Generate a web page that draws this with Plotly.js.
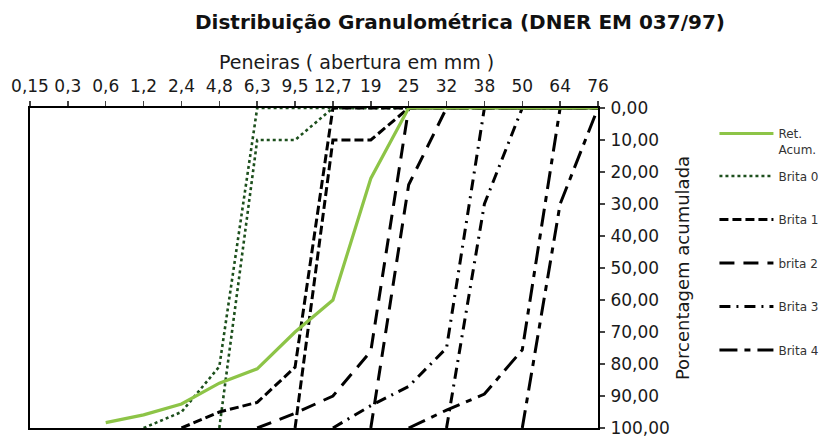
<!DOCTYPE html>
<html>
<head>
<meta charset="utf-8">
<script src="https://cdn.plot.ly/plotly-3.0.1.min.js"></script>
<style>html,body{margin:0;padding:0;background:#fff;}#chart{width:822px;height:437px;}</style>
</head>
<body>
<div id="chart"></div>
<script>
// Peneiras (abertura em mm)
const peneiras = ['0,15','0,3','0,6','1,2','2,4','4,8','6,3','9,5','12,7','19','25','32','38','50','64','76'];
const yTicks = [0,10,20,30,40,50,60,70,80,90,100];

// Porcentagem retida acumulada
const retAcum   = [null,null,98.3,95.9,92.5,86,81.5,70,60,22,0,0,0,0,0,0];
const brita0Inf = [null,null,null,100,95,80.8,0,0,0,0,0,0,0,0,0,0];
const brita0Sup = [null,null,null,null,null,100,10,10,0,0,0,0,0,0,0,0];
const brita1Inf = [null,null,null,null,100,95,92,81,0,0,0,0,0,0,0,0];
const brita1Sup = [null,null,null,null,null,null,null,100,10,10,0,0,0,0,0,0];
const brita2Inf = [null,null,null,null,null,null,100,95.4,90,76,0,0,0,0,0,0];
const brita2Sup = [null,null,null,null,null,null,null,null,null,100,24,0,0,0,0,0];
const brita3Inf = [null,null,null,null,null,null,null,null,100,93,87,75,0,0,0,0];
const brita3Sup = [null,null,null,null,null,null,null,null,null,null,null,100,30,0,0,0];
const brita4Inf = [null,null,null,null,null,null,null,null,null,null,100,94.4,89.4,75.6,0,0];
const brita4Sup = [null,null,null,null,null,null,null,null,null,null,null,null,null,100,30,0];

const FONT = 'DejaVu Sans, Liberation Sans, Arial, sans-serif';

function band(name, inf, sup, color, dash, width, rank) {
  const common = {x: peneiras, type: 'scatter', mode: 'lines', legendgroup: name, legend: 'legend2',
    legendrank: rank, line: {color: color, dash: dash, width: width}, connectgaps: false,
    hoverinfo: 'skip'};
  return [
    Object.assign({}, common, {name: name, y: inf, showlegend: true}),
    Object.assign({}, common, {name: name, y: sup, showlegend: false})
  ];
}

const traces = [].concat(
  band('Brita 0', brita0Inf, brita0Sup, '#1c4f1c', 'dot', 2.6, 2),
  band('Brita 1', brita1Inf, brita1Sup, '#000000', '9px,4px', 3, 3),
  band('brita 2', brita2Inf, brita2Sup, '#000000', '15px,9px', 3, 4),
  band('Brita 3', brita3Inf, brita3Sup, '#000000', '11px,6px,2px,6px', 3, 5),
  band('Brita 4', brita4Inf, brita4Sup, '#000000', '18px,7px,6px,7px', 3, 6),
  [{x: peneiras, y: retAcum, type: 'scatter', mode: 'lines', name: 'Ret.<br>Acum.',
    legend: 'legend', legendrank: 1, line: {color: '#8DC447', width: 3.2}, hoverinfo: 'skip'}]
);

const legendBase = {
  x: 1.205, xanchor: 'left', yanchor: 'top',
  font: {family: FONT, size: 12, color: '#333'},
  itemwidth: 54, valign: 'top', bgcolor: 'rgba(0,0,0,0)'
};

const layout = {
  width: 822, height: 437,
  margin: {l: 30, r: 224, t: 108, b: 9, autoexpand: false},
  paper_bgcolor: '#ffffff', plot_bgcolor: '#ffffff',
  separators: ',.',
  font: {family: FONT, color: '#1a1a1a'},
  title: {
    text: '<b>Distribuição Granulométrica (DNER EM 037/97)</b>',
    font: {family: FONT, size: 20, color: '#111'},
    x: 0.5596, xanchor: 'center', xref: 'container',
    y: 0.95, yanchor: 'middle', yref: 'container'
  },
  xaxis: {
    type: 'category', categoryarray: peneiras, categoryorder: 'array',
    range: [0, peneiras.length - 1], side: 'top', automargin: false,
    showgrid: false, zeroline: false,
    showline: true, linecolor: '#000', linewidth: 2, mirror: true,
    ticks: 'outside', ticklen: 5, tickwidth: 1.5, tickcolor: '#444', ticklabelstandoff: 2,
    tickfont: {family: FONT, size: 17, color: '#1a1a1a'}
  },
  yaxis: {
    range: [100, 0], side: 'right', automargin: false,
    tickvals: yTicks, tickformat: '.2f', ticklabeloverflow: 'allow',
    showgrid: false, zeroline: false,
    showline: true, linecolor: '#000', linewidth: 2, mirror: true,
    ticks: 'outside', ticklen: 5, tickwidth: 1.5, tickcolor: '#444', ticklabelstandoff: 2,
    tickfont: {family: FONT, size: 17, color: '#1a1a1a'},
    title: {text: 'Porcentagem acumulada', font: {family: FONT, size: 18, color: '#1a1a1a'}, standoff: 8}
  },
  annotations: [{
    text: 'Peneiras ( abertura em mm )', showarrow: false,
    xref: 'paper', yref: 'paper', x: 0.5757, y: 1.144, xanchor: 'center', yanchor: 'middle',
    font: {family: FONT, size: 19, color: '#1a1a1a'}
  }],
  showlegend: true,
  legend: Object.assign({}, legendBase, {y: 0.965}),
  legend2: Object.assign({}, legendBase, {y: 0.832, tracegroupgap: 24.5, traceorder: 'grouped'})
};

Plotly.newPlot('chart', traces, layout, {displayModeBar: false, staticPlot: true});
</script>
</body>
</html>
